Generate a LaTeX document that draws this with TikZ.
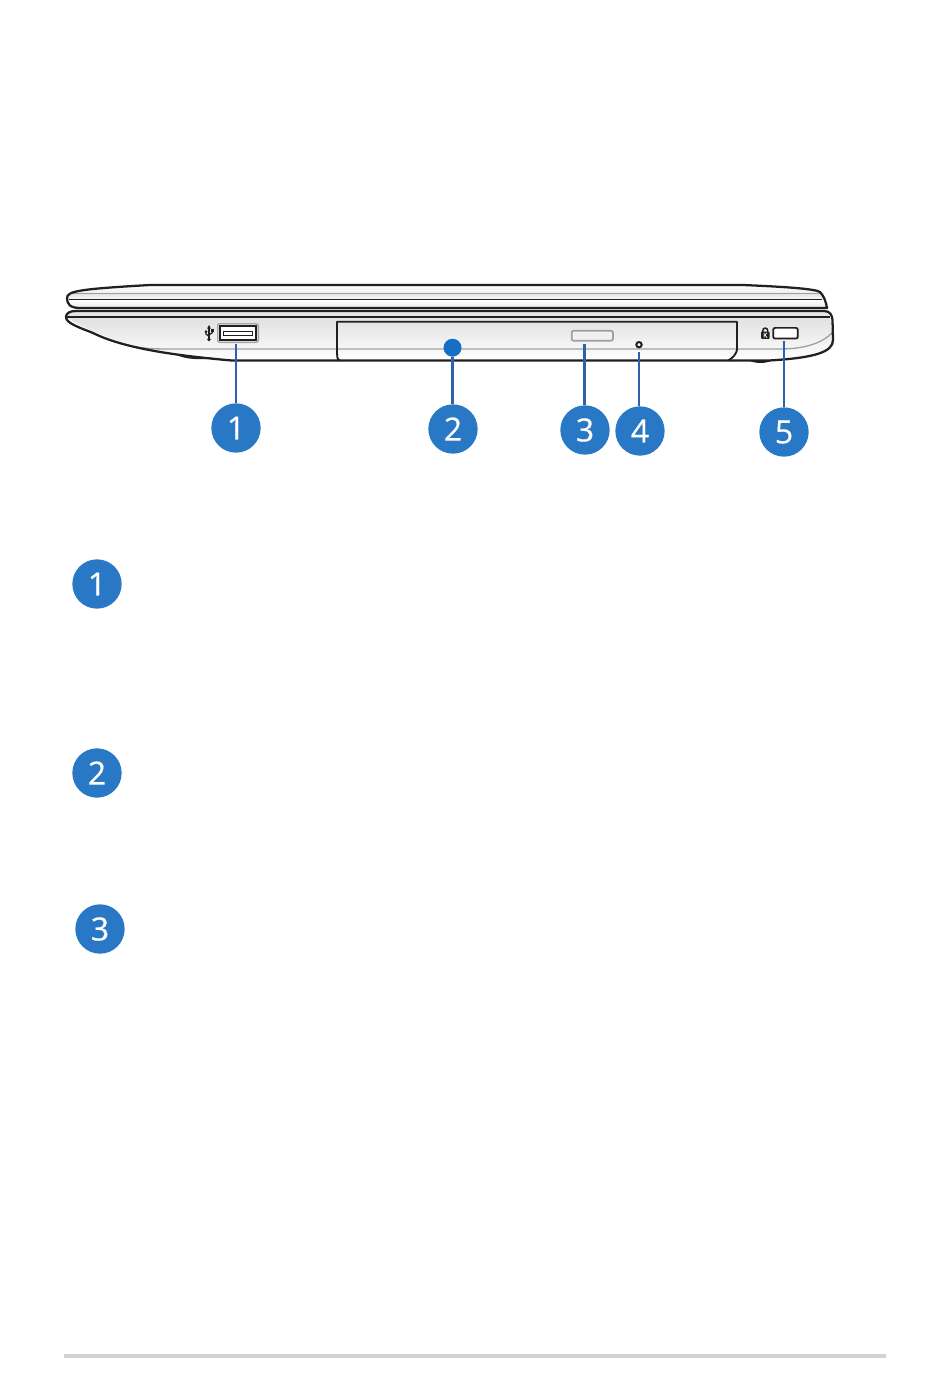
\documentclass[tikz,border=0pt]{standalone}
\usepackage{fontspec}
\setmainfont[FakeBold=0.5]{Open Sans}
\begin{document}
\begin{tikzpicture}[x=0.75pt,y=-0.75pt,
  badge/.style={circle,fill=badgeblue,text=white,minimum size=37pt,inner sep=0pt,font=\fontsize{24}{24}\selectfont},
  leader/.style={draw=leaderblue,line width=2.1pt},
  body/.style={draw=bodyblack,line width=1.7pt,line join=round},
  thin body/.style={draw=bodyblack,line width=1.3pt},
  crease/.style={draw=creasegrey,line width=1pt}]
\definecolor{badgeblue}{HTML}{2878C6}
\definecolor{leaderblue}{HTML}{2F62AE}
\definecolor{dotblue}{HTML}{1470C4}
\definecolor{bodyblack}{HTML}{231F20}
\definecolor{creasegrey}{HTML}{A0A0A0}
\useasboundingbox (0,0) rectangle (950,1392);
\fill[white] (0,0) rectangle (950,1392);
% lid
\path[top color=white,bottom color=gray!22]
  (67,298) .. controls (67,291) and (80,289) .. (150,285.5) -- (743,285.5)
  .. controls (790,287) and (815,289) .. (820,292) -- (822,293.5) -- (70,293.5) -- cycle;
\path[top color=gray!20,bottom color=gray!5]
  (68,294) -- (822,294) -- (824,299.5) -- (68,299.5) -- cycle;
\path[top color=white,bottom color=gray!18] (70,300) -- (823,300) -- (827,308) -- (80,308) .. controls (74,307) and (70,304) .. (70,300) -- cycle;
\draw[crease] (72,293.5) -- (820,293.5);
\draw[thin body] (69,299.6) -- (822,299.6);
\draw[body]
  (80,308) .. controls (70,308) and (67,304) .. (67,298)
  .. controls (67,291) and (80,289) .. (150,285) -- (743,285)
  .. controls (790,287) and (815,289) .. (820,292)
  .. controls (824,296) and (826,302) .. (827,308) -- cycle;
% base
\path[top color=gray!24,bottom color=white]
  (66,317) -- (830,317) -- (833,340) .. controls (833,352) and (815,358) .. (767,360.5)
  -- (233,360.5) .. controls (170,355) and (110,345) .. (66,317) -- cycle;
\path[fill=gray!20] (70,311) -- (826,311) -- (830,317) -- (66,317) -- cycle;
\draw[crease] (135,347) .. controls (150,349) and (160,349) .. (172,349) -- (780,349) .. controls (805,349) and (822,343) .. (832,333);
\draw[body]
  (76,311) -- (824,311) .. controls (830,311) and (832,315) .. (832.5,320)
  -- (833,340) .. controls (833,352) and (815,358) .. (767,360.6)
  -- (233,360.6) .. controls (180,356) and (125,349) .. (93,333)
  .. controls (78,327) and (66,323) .. (66,317) .. controls (66,313) and (70,311) .. (76,311);
\draw[thin body] (67,316.8) -- (830,316.8);
% feet
\fill[bodyblack] (176,354.5) .. controls (185,360) and (205,360) .. (214,358) -- cycle;
\fill[bodyblack] (748,360) .. controls (755,364) and (766,364) .. (773,360) -- cycle;
% optical drive
\draw[body,line width=1.4pt,line join=round]
  (340,360.6) .. controls (337,360) and (337,356) .. (337,350) -- (337,321.7) -- (737,321.7) -- (737,350)
  .. controls (736,354) and (733,358) .. (728,360.6);
\node[draw=gray!75,line width=1.3pt,rounded corners=1.5pt,fill=gray!12,minimum width=31pt,minimum height=7.5pt,inner sep=0pt] (eject) at (592.3,335.7) {};
\node[circle,fill=dotblue,minimum size=13.5pt,inner sep=0pt] (disc) at (452.5,347.7) {};
\node[circle,draw=bodyblack,fill=white,line width=1.5pt,minimum size=4pt,inner sep=0pt] (hole) at (639,344.7) {};
% usb port
\node[draw=gray!70,line width=1pt,rounded corners=1.5pt,minimum width=30.5pt,minimum height=14pt,inner sep=0pt] (usbouter) at (238,333) {};
\node[draw=bodyblack,line width=1.7pt,fill=white,minimum width=26.5pt,minimum height=10.5pt,inner sep=0pt] (usb) at (238,333) {};
\node[draw=bodyblack,line width=0.7pt,fill=white,minimum width=22pt,minimum height=3pt,inner sep=0pt] (usbslot) at (238,333) {};
% usb icon
\draw[bodyblack,line width=1pt] (209,326.5) -- (209,339.5);
\draw[bodyblack,line width=0.9pt] (209,336.5) -- (206,334) -- (206,332);
\draw[bodyblack,line width=0.9pt] (209,335) -- (212.5,332.5) -- (212.5,331);
\fill[bodyblack] (207.2,328.5) -- (209,325) -- (210.8,328.5) -- cycle;
\fill[bodyblack] (206,331.5) circle (1.5);
\fill[bodyblack] (211.2,329) rectangle (213.9,331.5);
\fill[bodyblack] (209,339.5) circle (1.8);
% lock
\fill[bodyblack,rounded corners=0.6pt] (761,331.5) rectangle (769.5,338.8);
\draw[bodyblack,line width=1.1pt] (762.8,332) -- (762.8,330.5) arc (180:360:2.45) -- (767.7,332);
\node[text=white,font=\fontsize{5}{5}\selectfont,inner sep=0pt] (lockk) at (765.2,335.2) {K};
\node[draw=bodyblack,line width=1.3pt,rounded corners=1.5pt,fill=white,minimum width=18.5pt,minimum height=8pt,inner sep=0pt] (lockslot) at (785.5,333.2) {};
% anchors for leaders
\coordinate (t1) at (236,344);
\coordinate (t3) at (584.5,343.5);
\coordinate (t4) at (639,352);
\coordinate (t5) at (784,341);
% badges
\node[badge] (b1) at (236,428) {1};
\node[badge] (b2) at (453,429) {2};
\node[badge] (b3) at (585,430) {3};
\node[badge] (b4) at (640,431) {4};
\node[badge] (b5) at (784,432) {5};
\draw[leader] (t1) -- (b1.north -| t1);
\draw[leader] (disc) -- (disc |- b2.north);
\draw[leader] (t3) -- (b3.north -| t3);
\draw[leader] (t4) -- (b4.north -| t4);
\draw[leader] (t5) -- (b5.north -| t5);
\node[badge] (k1) at (97,584) {1};
\node[badge] (k2) at (97,773) {2};
\node[badge] (k3) at (100,929) {3};
% bottom rule
\coordinate (ruleL) at (64,1356);
\coordinate (ruleR) at (886,1356);
\draw[draw=gray!35,line width=3pt] (ruleL) -- (ruleR);
\end{tikzpicture}
\end{document}
